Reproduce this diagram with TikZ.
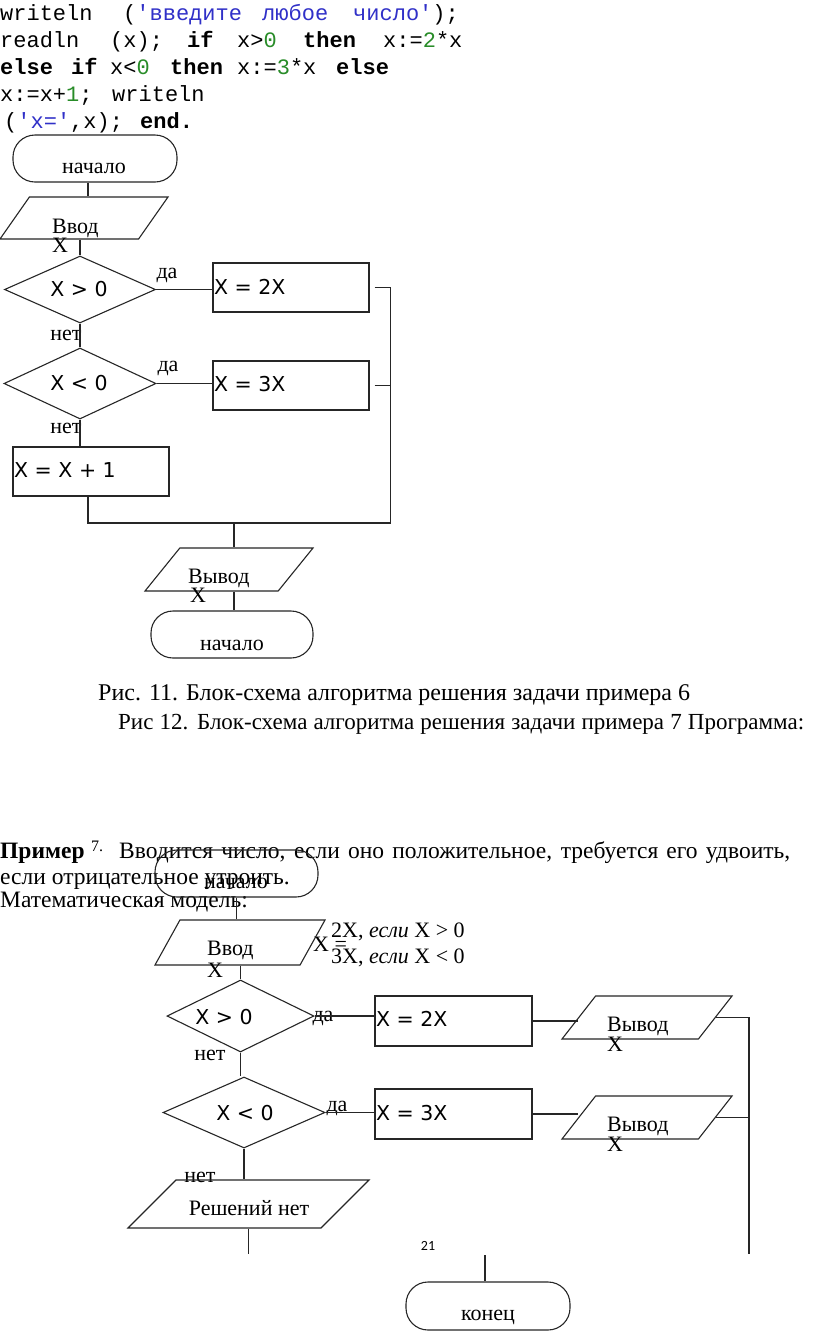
\documentclass[tikz,border=0pt]{standalone}
\usepackage{fontspec}
\setmainfont{Liberation Serif}
\newfontfamily\codefont{Liberation Mono}
\newfontfamily\formfont{DejaVu Sans}
\newfontfamily\numfont{Carlito}
\usetikzlibrary{shapes.geometric}
\definecolor{strblue}{RGB}{48,48,200}
\definecolor{numgreen}{RGB}{40,140,40}

\tikzset{
  wire/.style={draw=black!85, line width=1.1pt},
  blk/.style={wire, inner sep=0pt},
  term/.style={blk, rectangle, rounded corners=22pt},
  proc/.style={blk, rectangle},
  cond/.style={blk, diamond},
  io/.style={blk, trapezium, trapezium stretches body, text depth=0pt},
  lbl/.style={inner sep=0pt, font=\fontsize{22}{24}\selectfont},
  frm/.style={inner sep=0pt, font=\formfont\fontsize{20.5}{22}\selectfont},
  txt/.style={inner sep=0pt, anchor=base west, font=\fontsize{23.5}{26}\selectfont},
  code/.style={inner sep=0pt, anchor=base west, font=\codefont\fontsize{22}{24}\selectfont},
}

\begin{document}
\begin{tikzpicture}[x=1pt, y=-1pt]
\useasboundingbox[fill=white] (0,0) rectangle (816,1334);

% program
\foreach \x/\w [count=\i] in {0/writeln, 123/{(\textcolor{strblue}{'введите}}, 262/{\textcolor{strblue}{любое}}, 353/{\textcolor{strblue}{число'});}}
  \node[code] (ln1w\i) at (\x,20) {\w};
\foreach \x/\w [count=\i] in {0/readln, 110/{(x);}, 187/{\textbf{if}}, 237/{x>\textcolor{numgreen}{0}}, 303/{\textbf{then}}, 383/{x:=\textcolor{numgreen}{2}*x}}
  \node[code] (ln2w\i) at (\x,47) {\w};
\foreach \x/\w [count=\i] in {0/{\textbf{else}}, 71/{\textbf{if}}, 110/{x<\textcolor{numgreen}{0}}, 170/{\textbf{then}}, 237/{x:=\textcolor{numgreen}{3}*x}, 336/{\textbf{else}}}
  \node[code] (ln3w\i) at (\x,74) {\w};
\foreach \x/\w [count=\i] in {0/{x:=x+\textcolor{numgreen}{1};}, 112/writeln}
  \node[code] (ln4w\i) at (\x,101) {\w};
\foreach \x/\w [count=\i] in {4/{(\textcolor{strblue}{'x='},x);}, 140/{\textbf{end.}}}
  \node[code] (ln5w\i) at (\x,128) {\w};

% first scheme
\node[term, minimum width=164pt, minimum height=47pt] (st1) at (95,158.5) {};
\node[lbl] (st1t) at (94,168) {начало};
\node[io, trapezium left angle=55, trapezium right angle=125, minimum width=168pt, text height=42pt] (in1) at (84,218) {};
\node[lbl, anchor=base west] (in1t) at (52,233) {Ввод};
\node[lbl, anchor=base west] (in1x) at (52,252) {X};
\node[cond, minimum width=151pt, minimum height=67pt] (c1) at (80,289.5) {};
\node[frm] (c1t) at (79,289) {X > 0};
\node[lbl] (y1) at (167,275) {да};
\node[proc, minimum width=156pt, minimum height=49pt] (r1) at (291,287.5) {};
\node[frm, anchor=west] (r1t) at (214,287) {X = 2X};
\node[lbl] (n1) at (66,335) {нет};
\node[cond, minimum width=152pt, minimum height=71pt] (c2) at (80,383.5) {};
\node[frm] (c2t) at (79,383) {X < 0};
\node[lbl] (y2) at (168,368) {да};
\node[proc, minimum width=156pt, minimum height=49pt] (r2) at (291,385.5) {};
\node[frm, anchor=west] (r2t) at (214,384) {X = 3X};
\node[lbl] (n2) at (66,428) {нет};
\node[proc, minimum width=156pt, minimum height=49pt] (r3) at (91,471.5) {};
\node[frm, anchor=west] (r3t) at (14,470) {X = X + 1};
\coordinate (j1) at (234,523);
\node[io, trapezium left angle=51, trapezium right angle=129, minimum width=168pt, text height=43pt] (out1) at (229,569.5) {};
\node[lbl, anchor=base west] (out1t) at (188,583) {Вывод};
\node[lbl, anchor=base west] (out1x) at (190,602) {X};
\node[term, minimum width=162pt, minimum height=47pt] (en1) at (232,634.5) {};
\node[lbl] (en1t) at (232,645) {начало};

\draw[wire] ([xshift=-7pt]st1.south) -- ([xshift=-7pt]st1.south |- in1.north);
\draw[wire] (c1.north |- in1.south) -- (c1.north);
\draw[wire] (c1.east) -- (c1.east -| r1.west);
\draw[wire] ([xshift=5pt]r1.east) -- ++(16pt,0) |- (j1);
\draw[wire] (c1.south) -- (c2.north);
\draw[wire] (c2.east) -- (c2.east -| r2.west);
\draw[wire] ([xshift=5pt]r2.east) -- ++(16pt,0);
\draw[wire] (c2.south) -- (c2.south |- r3.north);
\draw[wire] ([xshift=-3pt]r3.south) |- (j1);
\draw[wire] (j1) -- (j1 |- out1.north);
\draw[wire] (out1.south -| j1) -- (en1.north -| j1);

% captions
\node[txt, font=\fontsize{24}{26}\selectfont] (cap1) at (98,700) {Рис. 11. Блок-схема алгоритма решения задачи примера 6};
\node[txt, font=\fontsize{23}{26}\selectfont] (cap2) at (118,729) {\makebox[686pt][s]{Рис 12. Блок-схема алгоритма решения задачи примера 7 Программа:}};

% example text
\node[txt] (p1a) at (0,858) {\textbf{Пример}};
\node[txt, font=\fontsize{16}{18}\selectfont] (p1n) at (91,851) {7.};
\node[txt] (p1b) at (119,858) {\makebox[671pt][s]{Вводится число, если оно положительное, требуется его удвоить,}};
\node[txt] (p2) at (0,884) {если отрицательное утроить.};
\node[txt] (p3) at (0,907) {Математическая модель:};
\node[txt, font=\fontsize{22}{24}\selectfont] (mx) at (313,951) {X =};
\node[txt, font=\fontsize{22}{24}\selectfont] (m1) at (331,937) {2X, \textit{если} X > 0};
\node[txt, font=\fontsize{22}{24}\selectfont] (m2) at (331,963) {3X, \textit{если} X < 0};

% second scheme
\node[term, minimum width=163pt, minimum height=47pt] (st2) at (236.5,873.5) {};
\node[lbl] (st2t) at (236,883) {начало};
\node[io, trapezium left angle=61, trapezium right angle=119, minimum width=170pt, text height=45pt] (in2) at (240,942.5) {};
\node[lbl, anchor=base west] (in2t) at (207,955) {Ввод};
\node[lbl, anchor=base west] (in2x) at (207,977) {X};
\node[cond, minimum width=147pt, minimum height=72pt] (c3) at (240.5,1016) {};
\node[frm] (c3t) at (224,1017) {X > 0};
\node[lbl] (y3) at (323,1018) {да};
\node[proc, minimum width=157pt, minimum height=50pt] (r4) at (453.5,1021) {};
\node[frm, anchor=west] (r4t) at (376,1019) {X = 2X};
\node[io, trapezium left angle=52, trapezium right angle=128, minimum width=170pt, text height=43pt] (out2) at (647,1017.5) {};
\node[lbl, anchor=base west] (out2t) at (607,1031) {Вывод};
\node[lbl, anchor=base west] (out2x) at (607,1051) {X};
\node[lbl] (n3) at (210,1055) {нет};
\node[cond, minimum width=162pt, minimum height=71pt] (c4) at (244,1112.5) {};
\node[frm] (c4t) at (245,1113) {X < 0};
\node[lbl] (y4) at (337,1108) {да};
\node[proc, minimum width=157pt, minimum height=50pt] (r5) at (453.5,1114) {};
\node[frm, anchor=west] (r5t) at (376,1113) {X = 3X};
\node[io, trapezium left angle=52, trapezium right angle=128, minimum width=170pt, text height=43pt] (out3) at (647,1117.5) {};
\node[lbl, anchor=base west] (out3t) at (607,1131) {Вывод};
\node[lbl, anchor=base west] (out3x) at (607,1151) {X};
\node[lbl] (n4) at (200,1177) {нет};
\node[io, trapezium left angle=45, trapezium right angle=135, minimum width=241pt, text height=48pt] (in3) at (248.5,1204) {};
\node[lbl] (in3t) at (249,1208) {Решений нет};
\coordinate (e1) at (249,1254);
\coordinate (e2) at (749,1254);
\coordinate (e3) at (485,1255);
\node[inner sep=0pt, font=\numfont\fontsize{14}{16}\selectfont] (pg) at (428,1246) {21};
\node[term, minimum width=164pt, minimum height=48pt] (en2) at (488,1306) {};
\node[lbl] (en2t) at (488,1317) {конец};

\draw[wire] (st2.south) -- (st2.south |- in2.north);
\draw[wire] (c3.north |- in2.south) -- (c3.north);
\draw[wire] (c3.east) -- (c3.east -| r4.west);
\draw[wire] (r4.east) -- (r4.east -| out2.west);
\draw[wire] (out2.east) -| (e2);
\draw[wire] (c3.south) -- (c3.south |- c4.north);
\draw[wire] (c4.east) -- (c4.east -| r5.west);
\draw[wire] (r5.east) -- (r5.east -| out3.west);
\draw[wire] (out3.east) -- (out3.east -| e2);
\draw[wire] (c4.south) -- (c4.south |- in3.north);
\draw[wire] (in3.south) -- (in3.south |- e1);
\draw[wire] (e3) -- (e3 |- en2.north);
\end{tikzpicture}
\end{document}
